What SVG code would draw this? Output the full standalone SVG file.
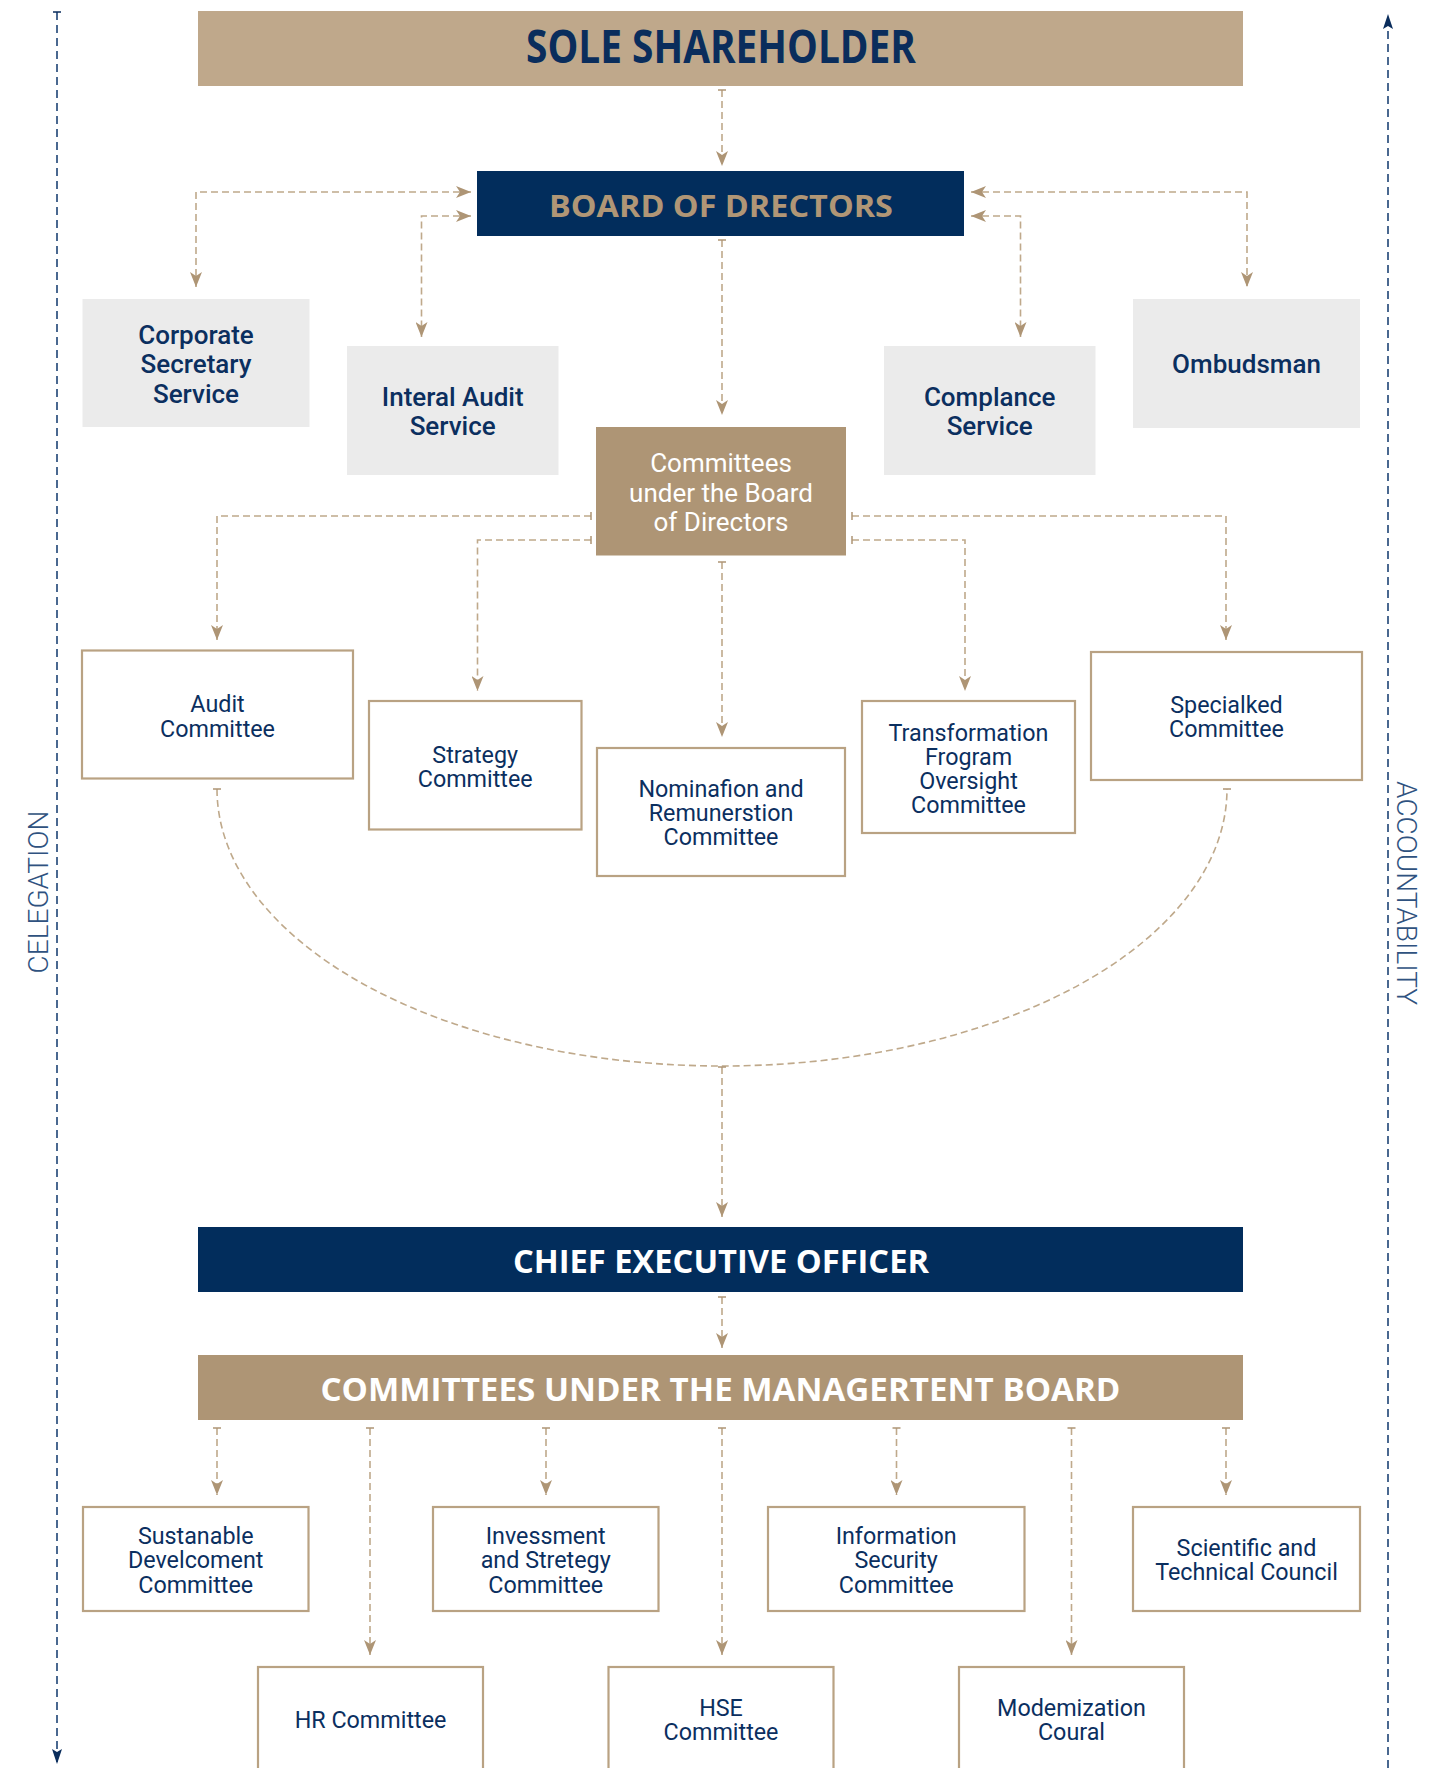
<svg xmlns="http://www.w3.org/2000/svg" width="1446" height="1768" viewBox="0 0 1446 1768">
<style>
.c{fill:none;stroke:#bfa98b;stroke-width:1.6;stroke-dasharray:7 4}
.n{fill:none;stroke:#4a6890;stroke-width:2;stroke-dasharray:8 5}
.b{fill:#fff;stroke:#b9a283;stroke-width:2.2}
.g{fill:#ebebeb}
.t{font-family:Roboto,"Liberation Sans",sans-serif;font-size:23.3px;fill:#0b2f5f;text-anchor:middle}
.tm{font-family:Roboto,"Liberation Sans",sans-serif;font-size:26px;font-weight:500;fill:#0b2f5f;text-anchor:middle}
.tw{font-family:Roboto,"Liberation Sans",sans-serif;font-size:26px;fill:#fff;text-anchor:middle}
.h{font-family:"Open Sans","Liberation Sans",sans-serif;font-weight:700;text-anchor:middle}
.v{font-family:Roboto,"Liberation Sans",sans-serif;font-weight:300;font-size:28px;fill:#2f5280;text-anchor:middle}
</style>
<defs>
<marker id="a" viewBox="0 0 15 12" refX="15" refY="6" markerWidth="15" markerHeight="12" markerUnits="userSpaceOnUse" orient="auto-start-reverse"><path d="M0,0 L15,6 L0,12 L4,6 z" fill="#ae9575"/></marker>
<marker id="tee" viewBox="-2 -5 4 10" refX="0" refY="0" markerWidth="4" markerHeight="10" markerUnits="userSpaceOnUse" orient="auto"><path d="M0,-4 V4" stroke="#ae9575" stroke-width="1.5"/></marker>
<marker id="an" viewBox="0 0 15 10" refX="15" refY="5" markerWidth="15" markerHeight="10" markerUnits="userSpaceOnUse" orient="auto"><path d="M0,0 L15,5 L0,10 L3,5 z" fill="#0a2d5c"/></marker>
<marker id="teen" viewBox="-2 -5 4 10" refX="0" refY="0" markerWidth="4" markerHeight="10" markerUnits="userSpaceOnUse" orient="auto"><path d="M0,-4 V4" stroke="#0a2d5c" stroke-width="1.5"/></marker>
</defs>

<g id="connectors">
<path class="n" d="M57,12 V1764" marker-start="url(#teen)" marker-end="url(#an)"/>
<path class="n" d="M1388,1768 V14" marker-end="url(#an)"/>
<path class="c" d="M722,90 V166" marker-start="url(#tee)" marker-end="url(#a)"/>
<path class="c" d="M471,192 H196 V287" marker-start="url(#a)" marker-end="url(#a)"/>
<path class="c" d="M471,216 H421.5 V337" marker-start="url(#a)" marker-end="url(#a)"/>
<path class="c" d="M971,216 H1020.5 V337" marker-start="url(#a)" marker-end="url(#a)"/>
<path class="c" d="M971,192 H1247 V287" marker-start="url(#a)" marker-end="url(#a)"/>
<path class="c" d="M722,240 V415" marker-start="url(#tee)" marker-end="url(#a)"/>
<path class="c" d="M591,516 H217 V640" marker-start="url(#tee)" marker-end="url(#a)"/>
<path class="c" d="M591,540 H477.5 V691" marker-start="url(#tee)" marker-end="url(#a)"/>
<path class="c" d="M722,562 V737" marker-start="url(#tee)" marker-end="url(#a)"/>
<path class="c" d="M852,540 H965 V691" marker-start="url(#tee)" marker-end="url(#a)"/>
<path class="c" d="M852,516 H1226 V640" marker-start="url(#tee)" marker-end="url(#a)"/>
<path class="c" d="M217,789 A505,277 0 0 0 1227,789" marker-start="url(#tee)" marker-end="url(#tee)"/>
<path class="c" d="M722,1067 V1217" marker-start="url(#tee)" marker-end="url(#a)"/>
<path class="c" d="M722,1297 V1348" marker-start="url(#tee)" marker-end="url(#a)"/>
<path class="c" d="M217,1428 V1495" marker-start="url(#tee)" marker-end="url(#a)"/>
<path class="c" d="M546,1428 V1495" marker-start="url(#tee)" marker-end="url(#a)"/>
<path class="c" d="M896.5,1428 V1495" marker-start="url(#tee)" marker-end="url(#a)"/>
<path class="c" d="M1226,1428 V1495" marker-start="url(#tee)" marker-end="url(#a)"/>
<path class="c" d="M370,1428 V1655" marker-start="url(#tee)" marker-end="url(#a)"/>
<path class="c" d="M722,1428 V1655" marker-start="url(#tee)" marker-end="url(#a)"/>
<path class="c" d="M1071.5,1428 V1655" marker-start="url(#tee)" marker-end="url(#a)"/>
</g>

<g id="label-delegation"><text class="v" transform="translate(48,892) rotate(-90)">CELEGATION</text></g>
<g id="label-accountability"><text class="v" transform="translate(1397,893) rotate(90)">ACCOUNTABILITY</text></g>

<g id="sole-shareholder">
<rect x="198" y="11" width="1045" height="75" fill="#bfa88b"/>
<text class="h" x="721" y="63" font-size="46" fill="#0a2d5c" textLength="390" lengthAdjust="spacingAndGlyphs">SOLE SHAREHOLDER</text>
</g>
<g id="board">
<rect x="477" y="171" width="487" height="65" fill="#022d5c"/>
<text class="h" x="721" y="216.7" font-size="31" fill="#b09676" textLength="344" lengthAdjust="spacingAndGlyphs">BOARD OF DRECTORS</text>
</g>
<g id="corporate-secretary">
<rect class="g" x="82.5" y="299" width="227" height="128"/>
<text class="tm" x="196" y="344">Corporate</text>
<text class="tm" x="196" y="373.3">Secretary</text>
<text class="tm" x="196" y="402.6">Service</text>
</g>
<g id="internal-audit">
<rect class="g" x="347" y="346" width="211.5" height="129"/>
<text class="tm" x="452.7" y="406">Interal Audit</text>
<text class="tm" x="452.7" y="435">Service</text>
</g>
<g id="compliance">
<rect class="g" x="884" y="346" width="211.5" height="129"/>
<text class="tm" x="989.7" y="406">Complance</text>
<text class="tm" x="989.7" y="435">Service</text>
</g>
<g id="ombudsman">
<rect class="g" x="1133" y="299" width="227" height="129"/>
<text class="tm" x="1246.5" y="373">Ombudsman</text>
</g>
<g id="committees-board">
<rect x="596" y="427" width="250" height="128.5" fill="#ae9575"/>
<text class="tw" x="721" y="472">Committees</text>
<text class="tw" x="721" y="501.5">under the Board</text>
<text class="tw" x="721" y="530.5">of Directors</text>
</g>
<g id="audit-committee">
<rect class="b" x="82" y="650.5" width="271" height="128"/>
<text class="t" x="217.5" y="712">Audit</text>
<text class="t" x="217.5" y="736.5">Committee</text>
</g>
<g id="strategy-committee">
<rect class="b" x="369" y="701" width="212.5" height="128.5"/>
<text class="t" x="475.2" y="762.7">Strategy</text>
<text class="t" x="475.2" y="787">Committee</text>
</g>
<g id="nomination-committee">
<rect class="b" x="597" y="748" width="248" height="128"/>
<text class="t" x="721" y="797">Nominafion and</text>
<text class="t" x="721" y="821">Remunerstion</text>
<text class="t" x="721" y="845">Committee</text>
</g>
<g id="transformation-committee">
<rect class="b" x="862" y="701" width="213" height="132"/>
<text class="t" x="968.5" y="740.5">Transformation</text>
<text class="t" x="968.5" y="764.5">Frogram</text>
<text class="t" x="968.5" y="788.5">Oversight</text>
<text class="t" x="968.5" y="812.5">Committee</text>
</g>
<g id="specialked-committee">
<rect class="b" x="1091" y="652" width="271" height="128"/>
<text class="t" x="1226.5" y="713">Specialked</text>
<text class="t" x="1226.5" y="737">Committee</text>
</g>
<g id="ceo">
<rect x="198" y="1227" width="1045" height="65" fill="#022d5c"/>
<text class="h" x="721" y="1272.5" font-size="33" fill="#fff" textLength="416" lengthAdjust="spacingAndGlyphs">CHIEF EXECUTIVE OFFICER</text>
</g>
<g id="committees-management">
<rect x="198" y="1355" width="1045" height="65" fill="#ae9575"/>
<text class="h" x="720.4" y="1400.5" font-size="33" fill="#fff" textLength="800" lengthAdjust="spacingAndGlyphs">COMMITTEES UNDER THE MANAGERTENT BOARD</text>
</g>
<g id="sustainable-development">
<rect class="b" x="83" y="1507" width="225.5" height="104"/>
<text class="t" x="195.7" y="1544">Sustanable</text>
<text class="t" x="195.7" y="1568.3">Develcoment</text>
<text class="t" x="195.7" y="1592.5">Committee</text>
</g>
<g id="investment-strategy">
<rect class="b" x="433" y="1507" width="225.5" height="104"/>
<text class="t" x="545.7" y="1544">Invessment</text>
<text class="t" x="545.7" y="1568.3">and Stretegy</text>
<text class="t" x="545.7" y="1592.5">Committee</text>
</g>
<g id="information-security">
<rect class="b" x="768" y="1507" width="256.5" height="104"/>
<text class="t" x="896.2" y="1544">Information</text>
<text class="t" x="896.2" y="1568.3">Security</text>
<text class="t" x="896.2" y="1592.5">Committee</text>
</g>
<g id="scientific-council">
<rect class="b" x="1133" y="1507" width="227" height="104"/>
<text class="t" x="1246.5" y="1556">Scientific and</text>
<text class="t" x="1246.5" y="1580">Technical Council</text>
</g>
<g id="hr-committee">
<rect class="b" x="258" y="1667" width="225" height="115"/>
<text class="t" x="370.5" y="1728.3">HR Committee</text>
</g>
<g id="hse-committee">
<rect class="b" x="608.5" y="1667" width="225" height="115"/>
<text class="t" x="721" y="1716">HSE</text>
<text class="t" x="721" y="1740">Committee</text>
</g>
<g id="modernization-council">
<rect class="b" x="959" y="1667" width="225" height="115"/>
<text class="t" x="1071.5" y="1716">Modemization</text>
<text class="t" x="1071.5" y="1740">Coural</text>
</g>
</svg>
